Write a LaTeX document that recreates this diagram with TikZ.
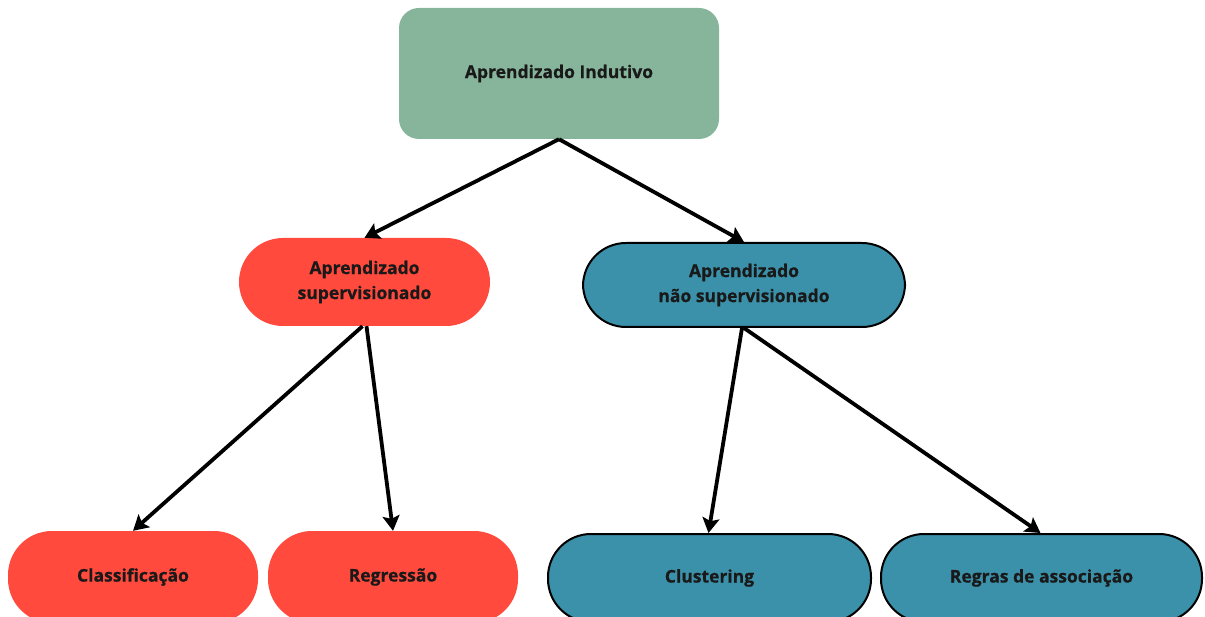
\documentclass[tikz,border=0pt]{standalone}
\usepackage{fontspec}
\setmainfont{Open Sans}[BoldFeatures={FakeBold=0.6}]
\usetikzlibrary{arrows.meta}
\definecolor{rootgreen}{HTML}{86B59B}
\definecolor{supred}{HTML}{FF4A3D}
\definecolor{unsupblue}{HTML}{3B91A9}
\tikzset{
  label text/.style={font=\fontsize{17.5}{25}\selectfont\bfseries, text=black!90, align=center, inner sep=0pt},
  rootbox/.style={label text, fill=rootgreen, rounded corners=20pt, minimum width=320pt, minimum height=131pt},
  redpill/.style={label text, fill=supred, rounded corners=44pt},
  bluepill/.style={label text, fill=unsupblue, draw=black, line width=2pt, rounded corners=43pt},
  link/.style={line width=3.8pt, draw=black, -{Stealth[length=15pt,width=17pt,inset=3pt]}}
}
\begin{document}
\begin{tikzpicture}[x=1pt, y=-1pt]
  \useasboundingbox (0,0) rectangle (1205,617);
  \begin{scope}
    \clip (0,0) rectangle (1205,617);
    % root
    \node[rootbox] (root) at (559,73.5) {Aprendizado Indutivo};
    % second level
    \node[redpill, minimum width=251pt, minimum height=88pt] (sup) at (364.5,282) {Aprendizado\\supervisionado};
    \node[bluepill, minimum width=322pt, minimum height=84pt] (unsup) at (744,285) {Aprendizado\\não supervisionado};
    % leaves
    \node[redpill, minimum width=250pt, minimum height=92pt] (cls) at (133,577) {Classificação};
    \node[redpill, minimum width=250pt, minimum height=92pt] (reg) at (393,577) {Regressão};
    \node[bluepill, minimum width=323pt, minimum height=88pt] (clu) at (709.5,578) {Clustering};
    \node[bluepill, minimum width=321pt, minimum height=88pt] (assoc) at (1041.5,578) {Regras de associação};
    % connectors
    \draw[link] (root.south) -- (sup.north);
    \draw[link] (root.south) -- (unsup.north);
    \draw[link] ([xshift=-2pt]sup.south) -- (cls.north);
    \draw[link] ([xshift=2pt]sup.south) -- (reg.north);
    \draw[link] ([xshift=-2pt]unsup.south) -- ([xshift=-1pt]clu.north);
    \draw[link] (unsup.south) -- ([xshift=-1pt]assoc.north);
  \end{scope}
\end{tikzpicture}
\end{document}
